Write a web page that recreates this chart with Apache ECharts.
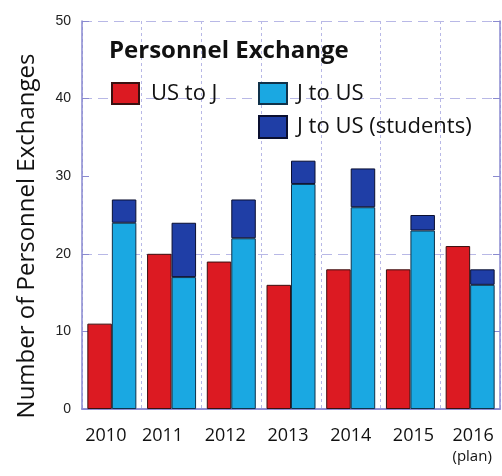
<!DOCTYPE html>
<html>
<head>
<meta charset="utf-8">
<script src="https://cdn.jsdelivr.net/npm/echarts@6/dist/echarts.min.js"></script>
<style>
html,body{margin:0;padding:0;background:#fff;}
#main{width:502px;height:476px;}
</style>
</head>
<body>
<div id="main"></div>
<script>
var years = ['2010','2011','2012','2013','2014','2015','2016'];
var usToJ = [11,20,19,16,18,18,21];
var jToUs = [24,17,22,29,26,23,16];
var jToUsStudents = [3,7,5,3,5,2,2];
var yTicks = [0,10,20,30,40,50];

var axisColor = '#8a8ad0';
var gridColor = '#b8b8e6';
var txtFont = '"Open Sans", "DejaVu Sans", sans-serif';
// small nudges of the year labels, as in the original
var nudge = [-6,-9,-6,-3,0,3,3];

var rich = {s:{fontSize:15,fontFamily:txtFont,color:'#111',lineHeight:24,padding:[0,0,0,4]}};
$each = function(arr,fn){ for(var i=0;i<arr.length;i++){ fn(i,arr[i]); } };
$each(nudge,function(i,n){
	rich['y'+i] = {fontSize:18,fontFamily:txtFont,color:'#111',
		padding: n<0 ? [0,-2*n,0,0] : [0,0,0,2*n]};
});

var myChart = echarts.init(document.getElementById('main'));
var option = {
	animation:false,
	title:{
		text:'Personnel Exchange',left:104,top:34,
		textStyle:{fontFamily:txtFont,fontSize:24,fontWeight:'bold',color:'#111'}
	},
	legend:[
		{data:['US to J'],left:106,top:77,itemWidth:27,itemHeight:21,icon:'rect',
			textStyle:{fontFamily:txtFont,fontSize:22,color:'#111',padding:[0,0,0,7]}},
		{data:['J to US'],left:253,top:77,itemWidth:28,itemHeight:21,icon:'rect',
			textStyle:{fontFamily:txtFont,fontSize:22,color:'#111',padding:[0,0,0,5]}},
		{data:['J to US (students)'],left:253,top:110,itemWidth:28,itemHeight:22,icon:'rect',
			textStyle:{fontFamily:txtFont,fontSize:22,color:'#111',padding:[0,0,0,5]}}
	],
	grid:{left:82,right:2,top:21,bottom:67,containLabel:false},
	graphic:[{
		type:'text',x:27,y:236,rotation:Math.PI/2,
		style:{text:'Number of Personnel Exchanges',font:'24px "Open Sans", sans-serif',fill:'#111',align:'center',verticalAlign:'middle'}
	}],
	xAxis:[{
		type:'category',data:years,
		axisLine:{lineStyle:{color:axisColor,width:1.5}},
		axisTick:{show:false},
		splitLine:{show:true,lineStyle:{color:gridColor,type:[3,3],width:1}},
		axisLabel:{
			interval:0,margin:18,fontFamily:txtFont,fontSize:18,color:'#111',
			formatter:function(v,i){
				var s = '{y'+i+'|'+v+'}';
				return v=='2016' ? s+'\n{s|(plan)}' : s;
			},
			rich:rich
		}
	},{
		type:'category',data:years,position:'top',
		axisLine:{lineStyle:{color:axisColor,width:1.5}},
		axisTick:{show:false},axisLabel:{show:false},splitLine:{show:false}
	}],
	yAxis:[{
		type:'value',min:0,max:50,interval:10,
		axisLine:{show:true,lineStyle:{color:axisColor,width:1.5}},
		axisTick:{show:true,inside:true,length:7,lineStyle:{color:axisColor}},
		splitLine:{show:false},
		axisLabel:{margin:11,fontFamily:'"Liberation Sans", Arial, sans-serif',fontSize:14,color:'#222',
			formatter:function(v){ return yTicks.indexOf(v)>=0 ? String(v) : ''; }}
	},{
		type:'value',min:0,max:50,interval:10,position:'right',
		axisLine:{show:true,lineStyle:{color:axisColor,width:1.5}},
		axisTick:{show:true,inside:true,length:7,lineStyle:{color:axisColor}},
		axisLabel:{show:false},splitLine:{show:false}
	},{
		// major gridlines every 20
		type:'value',min:0,max:50,interval:20,position:'left',show:true,
		axisLine:{show:false},axisTick:{show:false},axisLabel:{show:false},
		splitLine:{show:true,lineStyle:{color:gridColor,type:[10,6],width:1.2}}
	}],
	series:[
		{
			name:'US to J',type:'bar',data:usToJ,barWidth:24.5,barGap:'0%',
			itemStyle:{color:'#dc1a22',borderColor:'#3a1010',borderWidth:1}
		},
		{
			name:'J to US',type:'bar',stack:'j',data:jToUs,barWidth:24.5,
			itemStyle:{color:'#1aa8e2',borderColor:'#10324a',borderWidth:1}
		},
		{
			name:'J to US (students)',type:'bar',stack:'j',data:jToUsStudents,barWidth:24.5,
			itemStyle:{color:'#1f3ea6',borderColor:'#0a0f30',borderWidth:1}
		}
	]
};
myChart.setOption(option);
</script>
</body>
</html>
